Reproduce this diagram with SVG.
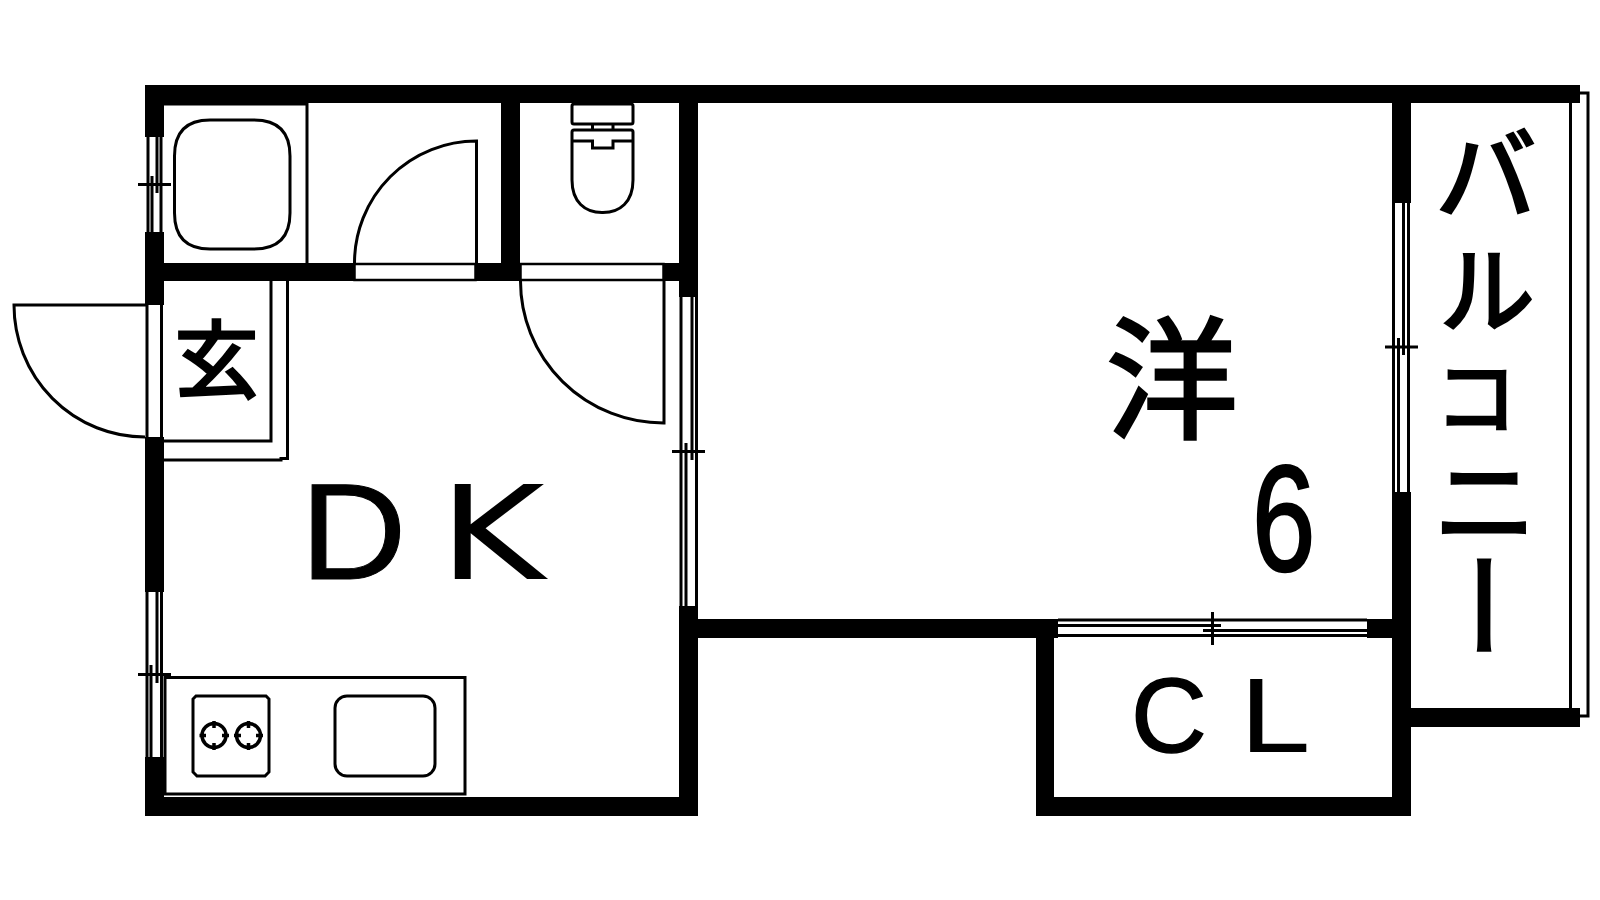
<svg xmlns="http://www.w3.org/2000/svg" width="1600" height="900" viewBox="0 0 1600 900">
<style>
.t{fill:#000;font-family:"Liberation Sans","Noto Sans CJK JP",sans-serif}
.d{fill:#000;font-family:"DejaVu Sans",sans-serif}
.j{fill:#000;stroke:#000;stroke-width:3;font-family:"Noto Sans CJK JP",sans-serif;font-weight:400}
.l{fill:none;stroke:#000;stroke-width:3}
.w{fill:#000}
</style>
<rect width="1600" height="900" fill="#fff"/>
<g id="walls" class="w">
<rect x="145" y="85" width="1435" height="18"/>
<rect x="145" y="85" width="19" height="52"/>
<rect x="145" y="232" width="19" height="73"/>
<rect x="145" y="263" width="534" height="18"/>
<rect x="145" y="437" width="19" height="155"/>
<rect x="145" y="757" width="19" height="59"/>
<rect x="145" y="797" width="553" height="19"/>
<rect x="501" y="85" width="19" height="196"/>
<rect x="679" y="85" width="19" height="212"/>
<rect x="679" y="606" width="19" height="210"/>
<rect x="679" y="619" width="379" height="19"/>
<rect x="1036" y="619" width="18" height="197"/>
<rect x="1036" y="797" width="375" height="19"/>
<rect x="1367" y="619" width="44" height="19"/>
<rect x="1392" y="85" width="19" height="118"/>
<rect x="1392" y="492" width="19" height="324"/>
<rect x="1392" y="708" width="188" height="19"/>
</g>
<g id="openings" fill="#fff" stroke="#000" stroke-width="2.500">
<rect x="354.500" y="264" width="121" height="16"/>
<rect x="520.500" y="264" width="143" height="16"/>
</g>
<g id="windows" class="l">
<path d="M148 137V232M161 137V232M152 176V232M157 137V193M138 184.500H171"/>
<path d="M147 592V757M161.500 592V757M151 665V757M157 592V683M138 674.500H171"/>
<path d="M681 297V606M696.500 297V606M686 443V606M692 297V460M672 451.500H705"/>
<path d="M1393.500 203V492M1408.500 203V492M1398.500 338V492M1403.500 203V355M1385 347H1418"/>
<path d="M1058 620H1367M1058 635.500H1367M1058 625.500H1221M1203 630.500H1367M1212.500 612V645"/>
</g>
<g id="balcony-rail" class="l">
<path d="M1570.500 103V708"/>
<path d="M1580 93H1588V716H1580"/>
</g>
<g id="entrance-door" class="l">
<path d="M147 305H14A131 132 0 0 0 145 437"/>
<path d="M147 305V437M161.500 305V437"/>
</g>
<g id="genkan" class="l">
<path d="M271 281V441H164"/>
<path d="M287.500 281V458.500H281V460H164"/>
</g>
<g id="wash-door" class="l"><path d="M354.500 263A122 122 0 0 1 476.500 141V263"/></g>
<g id="toilet-door" class="l"><path d="M520.500 281A143 142 0 0 0 664 423V281"/></g>
<g id="bath-room" class="l">
<path d="M164 104H307M307 103V263"/>
<path d="M210 120H254C278 120 290 132 290 156V213C290 237 278 249 254 249H210C186 249 174.500 237 174.500 213V156C174.500 132 186 120 210 120Z"/>
</g>
<g id="toilet" class="l">
<rect x="572" y="104" width="61" height="20" rx="2"/>
<path d="M592.500 124V130M613 124V130"/>
<path d="M572 141V132Q572 130 574 130H631Q633 130 633 132V141H613V148H592.500V141H572M572 141V180C572 202 585 212.500 602 212.500H603C620 212.500 633 202 633 180V141"/>
</g>
<g id="kitchen" class="l">
<rect x="165" y="677.500" width="300" height="116.500"/>
<path d="M196 696H266L269 699V772L265 776H197L193 772V699Z"/>
<g stroke-width="3.500">
<circle cx="214" cy="735.500" r="12"/>
<circle cx="248.500" cy="735.500" r="12"/>
<path d="M214 721V728M214 743V750M199.500 735.500H206M222 735.500H229M248.500 721V728M248.500 743V750M234 735.500H241M256 735.500H263"/>
</g>
<rect x="335" y="696" width="100" height="80" rx="12"/>
</g>
<g id="labels">
<text class="j" x="216.500" y="391" font-size="84" text-anchor="middle">玄</text>
<text class="t" transform="translate(300,579) scale(1.07,1)" font-size="138" stroke="#000" stroke-width="1">D</text>
<text class="d" transform="translate(439,579) scale(1.24,1)" font-size="130">K</text>
<text class="j" x="1172" y="428" font-size="132" text-anchor="middle">洋</text>
<text class="t" transform="translate(1283.700,570.500) scale(0.76,1)" font-size="150" text-anchor="middle" stroke="#000" stroke-width="2.500">6</text>
<text class="t" x="1131" y="752" font-size="105" stroke="#000" stroke-width="1.500">C</text>
<text class="d" transform="translate(1238,752) scale(1.25,1)" font-size="99">L</text>
<text class="j" style="writing-mode:vertical-rl"><tspan x="1486" y="122" font-size="104">バ</tspan><tspan x="1486" y="240" font-size="98">ル</tspan><tspan x="1477" y="354" font-size="85">コ</tspan><tspan x="1485" y="448" font-size="105">ニ</tspan><tspan x="1485" y="549" font-size="115">ー</tspan></text>
</g>
</svg>
